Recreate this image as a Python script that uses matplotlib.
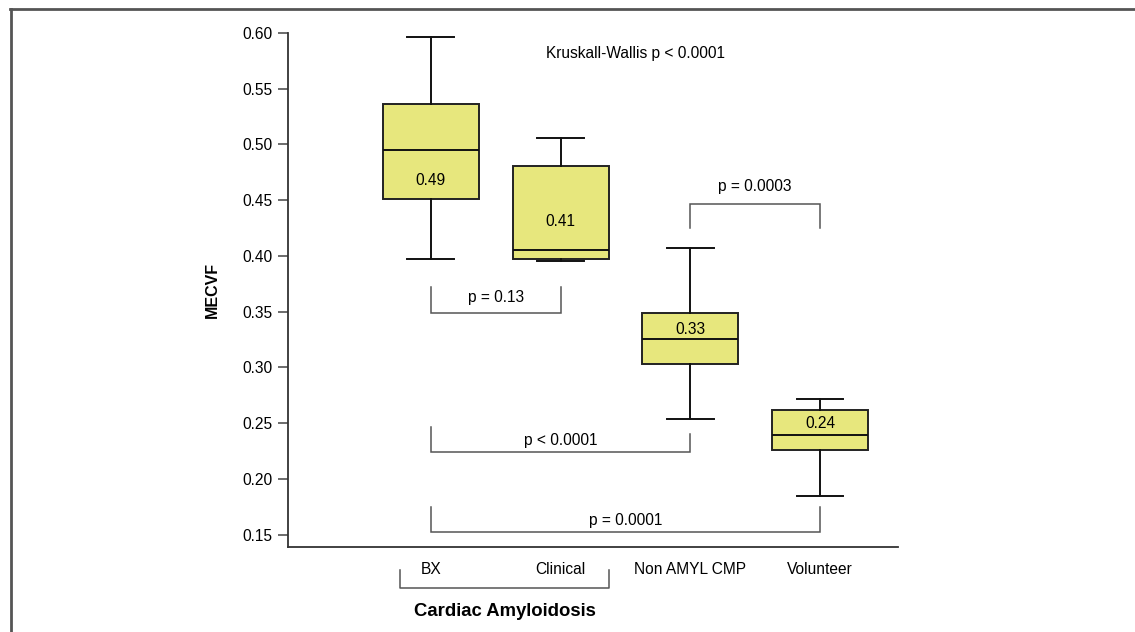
import matplotlib
matplotlib.use("Agg")
import matplotlib.pyplot as plt
from matplotlib.lines import Line2D

plt.rcParams['font.family'] = ['Liberation Sans', 'DejaVu Sans']

categories = ["BX", "Clinical", "Non AMYL CMP", "Volunteer"]
whisker_low = [0.397, 0.395, 0.254, 0.185]
q1 = [0.451, 0.397, 0.303, 0.226]
median = [0.495, 0.405, 0.325, 0.239]
q3 = [0.536, 0.481, 0.349, 0.262]
whisker_high = [0.596, 0.506, 0.407, 0.272]
box_labels = ["0.49", "0.41", "0.33", "0.24"]
box_label_y = [0.468, 0.431, 0.334, 0.25]

# comparisons: (i, j, bracket line y, left end y, right end y, label, label x, label y)
comparisons = [
    (0, 1, 0.349, 0.372, 0.372, "p = 0.13", 0.5, 0.363),
    (0, 2, 0.224, 0.2467, 0.240, "p < 0.0001", 1.0, 0.234),
    (0, 3, 0.152, 0.175, 0.175, "p = 0.0001", 1.5, 0.1625),
    (2, 3, 0.447, 0.4247, 0.4247, "p = 0.0003", 2.5, 0.462),
]
yticks = [0.15, 0.20, 0.25, 0.30, 0.35, 0.40, 0.45, 0.50, 0.55, 0.60]

FS = 11.2

fig = plt.figure(figsize=(11.35, 6.32), dpi=100)
ax = fig.add_axes([288/1135, 1-547/632, (898-288)/1135, (547-33)/632])

stats = []
for i, c in enumerate(categories):
    stats.append(dict(med=median[i], q1=q1[i], q3=q3[i],
                      whislo=whisker_low[i], whishi=whisker_high[i],
                      fliers=[], label=c))
pos = list(range(len(categories)))
ax.bxp(stats, positions=pos, widths=0.74, patch_artist=True,
       showfliers=False,
       boxprops=dict(facecolor="#e7e77d", edgecolor="#222222", linewidth=1.4),
       medianprops=dict(color="#111111", linewidth=1.4),
       whiskerprops=dict(color="#111111", linewidth=1.4),
       capprops=dict(color="#111111", linewidth=1.4),
       capwidths=0.36)

for i, lab in enumerate(box_labels):
    ax.text(pos[i], box_label_y[i], lab, ha="center", va="center", fontsize=FS)

bc = "#555555"
for i, j, yb, yl, yr, lab, lx, ly in comparisons:
    ax.plot([pos[i], pos[i], pos[j], pos[j]], [yl, yb, yb, yr], color=bc, lw=1.1,
            solid_joinstyle="miter", clip_on=False)
    ax.text(lx, ly, lab, ha="center", va="center", fontsize=FS)

ax.text(1.58, 0.582, "Kruskall-Wallis p < 0.0001", ha="center", va="center", fontsize=FS)

ax.set_xlim(-1.10, 3.60)
ax.set_ylim(0.1388, 0.60)
ax.set_yticks(yticks)
ax.set_yticklabels([f"{t:.2f}" for t in yticks], fontsize=FS)
ax.set_xticks(pos)
ax.set_xticklabels(categories, fontsize=FS)
ax.tick_params(axis="x", length=0, pad=11)
ax.tick_params(axis="y", length=7, width=1.1, color="#444444", pad=4)
for s in ["top", "right"]:
    ax.spines[s].set_visible(False)
for s in ["left", "bottom"]:
    ax.spines[s].set_color("#333333")
    ax.spines[s].set_linewidth(1.3)
ax.set_ylabel("MECVF", fontsize=11.5, fontweight="bold")
ax.yaxis.set_label_coords(-0.112, 0.5)

# Group bracket under BX / Clinical
ax.plot([-0.24, -0.24, 1.37, 1.37], [0.1186, 0.1016, 0.1016, 0.1186],
        color=bc, lw=1.1, clip_on=False)
ax.text(0.57, 0.0810, "Cardiac Amyloidosis", ha="center", va="center",
        fontsize=13.3, fontweight="bold", clip_on=False)

# figure frame lines (top and left)
fig.add_artist(Line2D([10/1135, 1.0], [1-8.5/632, 1-8.5/632], color="#555555", lw=2,
                      transform=fig.transFigure))
fig.add_artist(Line2D([10.5/1135, 10.5/1135], [0, 1-8.5/632], color="#555555", lw=2,
                      transform=fig.transFigure))

fig.savefig("out.png", dpi=100)
